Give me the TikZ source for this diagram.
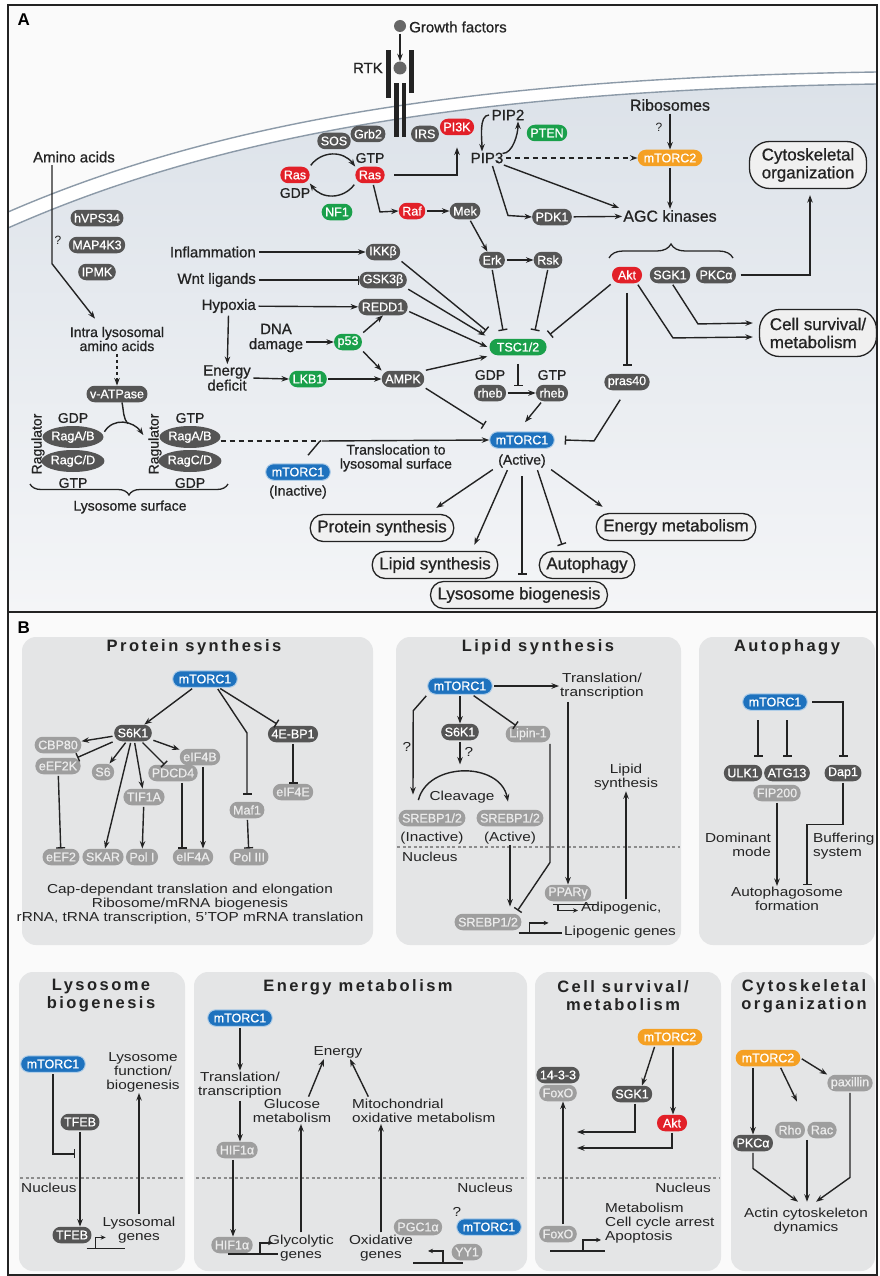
\documentclass[tikz,border=0pt]{standalone}
\usepackage{fontspec}
\setmainfont{Liberation Sans}
\newfontfamily\widesans[FakeStretch=1.18]{Liberation Sans}
\newfontfamily\titlesans[LetterSpace=15]{Liberation Sans}
\newfontfamily\medsans[FakeBold=0.8]{Liberation Sans}
\usetikzlibrary{arrows.meta,shapes.geometric,decorations.pathreplacing}
\definecolor{mtblue}{RGB}{30,114,190}
\definecolor{mtred}{RGB}{226,32,40}
\definecolor{mtgreen}{RGB}{26,160,75}
\definecolor{mtorange}{RGB}{245,160,35}
\definecolor{dkgrey}{RGB}{85,85,85}
\definecolor{ltgrey}{RGB}{158,158,158}
\definecolor{boxgrey}{RGB}{228,229,230}
\definecolor{membr}{RGB}{140,154,168}
\definecolor{cytotop}{RGB}{220,226,233}
\definecolor{cytolow}{RGB}{244,245,247}
\definecolor{ink}{RGB}{35,35,35}
\newcommand{\pillfont}{\medsans\fontsize{12.5}{12.5}\selectfont}
\newcommand{\lblfont}{\medsans\fontsize{15}{15}\selectfont}
\tikzset{
  pill/.style={rounded corners=8pt,inner xsep=3.5pt,inner ysep=0pt,minimum height=16.5pt,text=white,font=\pillfont},
  dkpill/.style={pill,fill=dkgrey},
  ltpill/.style={pill,fill=ltgrey,text=white!92!black},
  blpill/.style={pill,fill=mtblue,draw=mtblue!35,line width=1pt,inner xsep=6pt},
  rdpill/.style={pill,fill=mtred},
  gnpill/.style={pill,fill=mtgreen},
  ogpill/.style={pill,fill=mtorange,inner xsep=6pt},
  lbl/.style={font=\lblfont,text=ink,align=center,inner sep=1pt},
  smlbl/.style={lbl,font=\medsans\fontsize{14}{14}\selectfont},
  outbox/.style={draw=ink,line width=1.3pt,fill=black!6,rounded corners=13pt,minimum height=27pt,inner xsep=7pt,inner ysep=0pt,font=\medsans\fontsize{17}{18}\selectfont,text=ink,align=center},
  bigbox/.style={outbox,rounded corners=20pt,minimum height=47pt,minimum width=117pt},
  arr/.style={draw=ink,line width=1.4pt,shorten <=1.5pt,-{Stealth[length=7.5pt,width=5.5pt]}},
  inh/.style={draw=ink,line width=1.4pt,shorten <=1.5pt,-{Bar[width=9pt]}},
  gene/.style={draw=ink,line width=1.2pt},
  genearr/.style={gene,-{Stealth[length=5pt,width=4.5pt]}},
  nucline/.style={draw=black!45,line width=1.2pt,dash pattern=on 3pt off 2.5pt},
  panelbox/.style={fill=boxgrey,rounded corners=14pt},
  btitle/.style={font=\titlesans\bfseries\fontsize{16.5}{18}\selectfont,text=ink,align=center},
  btext/.style={font=\widesans\fontsize{13}{14}\selectfont,text=ink,align=center,inner sep=1pt},
  rag/.style={ellipse,fill=dkgrey,text=white,font=\pillfont,minimum width=57pt,minimum height=22pt,inner sep=0pt},
}
\begin{document}
\begin{tikzpicture}[x=1pt,y=-1pt]
\useasboundingbox (0,0) rectangle (879,1276);
\fill[white] (0,0) rectangle (879,1276);
\fill[black!2] (8,5) rectangle (877,612);
\shade[top color=cytotop,bottom color=cytolow] (8,228) .. controls (220,134) and (480,90) .. (877,84) -- (877,612) -- (8,612) -- cycle;
\fill[white] (8,212) .. controls (220,120) and (480,78) .. (877,72) -- (877,84) .. controls (480,90) and (220,134) .. (8,228) -- cycle;
\draw[membr,line width=1.4pt] (8,212) .. controls (220,120) and (480,78) .. (877,72);
\draw[membr,line width=1.4pt] (8,228) .. controls (220,134) and (480,90) .. (877,84);
\fill[black!2] (8,612) rectangle (877,1275);
\draw[ink,line width=1.6pt] (8,5) rectangle (877,1275);
\draw[ink,line width=1.6pt] (8,612) -- (877,612);
\node[font=\bfseries\fontsize{17}{17}\selectfont,anchor=west] (labA) at (14,20) {A};
\node[font=\bfseries\fontsize{17}{17}\selectfont,anchor=west] (labB) at (14,628) {B};

\node[circle,fill=black!60,minimum size=12pt,inner sep=0pt] (gf) at (400,26) {};
\node[lbl,anchor=west] (gftxt) at (408,27) {Growth factors};
\fill[ink] (386,50) rectangle (391,98);
\fill[ink] (409,50) rectangle (414,93);
\fill[ink] (394,83) rectangle (398.5,137);
\fill[ink] (401.5,83) rectangle (406,137);
\node[circle,fill=black!60,minimum size=13pt,inner sep=0pt] (lig) at (400,68) {};
\node[lbl,anchor=east] (rtk) at (384,68) {RTK};
\draw[arr] (gf) -- (lig);
\node[dkpill] (sos) at (334,141) {SOS};
\node[dkpill] (grb2) at (368,134) {Grb2};
\node[dkpill] (irs) at (425,134) {IRS};
\node[rdpill] (pi3k) at (457,127) {PI3K};
\node[gnpill] (pten) at (547,133) {PTEN};
\node[smlbl] (gtp1) at (370,158) {GTP};
\node[rdpill] (rasR) at (370,175) {Ras};
\node[rdpill] (rasL) at (295,175) {Ras};
\node[smlbl] (gdp1) at (295,193) {GDP};
\node[gnpill] (nf1) at (337,212) {NF1};
\node[rdpill] (raf) at (412,211) {Raf};
\node[dkpill] (mek) at (465,211) {Mek};
\node[lbl] (pip2) at (508,115) {PIP2};
\node[lbl] (pip3) at (487,158) {PIP3};
\node[ogpill] (mtorc2) at (670,158) {mTORC2};
\node[lbl,font=\medsans\fontsize{16}{16}\selectfont] (ribo) at (670,105) {Ribosomes};
\node[lbl,font=\fontsize{12}{12}\selectfont] (q1) at (659,127) {?};
\node[bigbox] (cytobox) at (808,165) {Cytoskeletal\\organization};
\node[dkpill] (pdk1) at (552,217) {PDK1};
\node[lbl,font=\medsans\fontsize{16}{16}\selectfont] (agc) at (670,216) {AGC kinases};
\node[rdpill,minimum width=30pt] (akt) at (627,275) {Akt};
\node[dkpill] (sgk1) at (670,275) {SGK1};
\node[dkpill] (pkca) at (716,275) {PKCα};
\node[dkpill] (erk) at (492,260) {Erk};
\node[dkpill] (rsk) at (548,260) {Rsk};
\node[dkpill] (ikk) at (383,252) {IKKβ};
\node[dkpill] (gsk) at (383,280) {GSK3β};
\node[dkpill] (redd1) at (383,307) {REDD1};
\node[lbl,anchor=east] (infl) at (257,252) {Inflammation};
\node[lbl,anchor=east] (wnt) at (257,280) {Wnt ligands};
\node[lbl,anchor=east] (hyp) at (257,306) {Hypoxia};
\node[lbl] (dna) at (276,338) {DNA\\damage};
\node[gnpill] (p53) at (348,342) {p53};
\node[lbl] (edef) at (227,378) {Energy\\deficit};
\node[gnpill] (lkb1) at (308,379) {LKB1};
\node[dkpill] (ampk) at (403,379) {AMPK};
\node[gnpill,minimum width=57pt] (tsc) at (518,347) {TSC1/2};
\node[smlbl] (gdp2) at (490,375) {GDP};
\node[dkpill] (rheb1) at (490,393) {rheb};
\node[smlbl] (gtp2) at (552,375) {GTP};
\node[dkpill] (rheb2) at (552,393) {rheb};
\node[blpill] (mtorc1) at (522,440) {mTORC1};
\node[smlbl] (actv) at (522,461) {(Active)};
\node[dkpill] (pras) at (627,382) {pras40};
\node[bigbox,align=left] (cellbox) at (818,333) {Cell survival/\\metabolism};

\node[lbl] (amino) at (74,157) {Amino acids};
\node[dkpill] (vps) at (97,218) {hVPS34};
\node[dkpill] (map4k3) at (97,245) {MAP4K3};
\node[dkpill] (ipmk) at (97,272) {IPMK};
\node[lbl,font=\fontsize{12}{12}\selectfont] (q2) at (58,240) {?};
\node[smlbl] (intra) at (117,339) {Intra lysosomal\\amino acids};
\node[dkpill] (vatp) at (117,394) {v-ATPase};
\node[smlbl] (gdpL) at (73,418) {GDP};
\node[rag] (ragab1) at (73,437) {RagA/B};
\node[rag] (ragcd1) at (73,461) {RagC/D};
\node[smlbl] (gtpL) at (73,483) {GTP};
\node[smlbl,rotate=90] (ragul1) at (38,444) {Ragulator};
\node[smlbl] (gtpR) at (190,418) {GTP};
\node[rag] (ragab2) at (190,437) {RagA/B};
\node[rag] (ragcd2) at (190,461) {RagC/D};
\node[smlbl] (gdpR) at (190,483) {GDP};
\node[smlbl,rotate=90] (ragul2) at (155,444) {Ragulator};
\draw[ink,line width=1.3pt,decorate,decoration={brace,amplitude=11pt}] (228,484) -- (30,484);
\node[smlbl] (lysurf) at (130,507) {Lysosome surface};
\node[blpill] (mtorcI) at (298,472) {mTORC1};
\node[smlbl] (inact) at (298,492) {(Inactive)};
\node[smlbl] (transl) at (396,458) {Translocation to\\lysosomal surface};
\coordinate (jn) at (320,441);

\node[outbox] (oprot) at (382,528) {Protein synthesis};
\node[outbox] (olip) at (435,565) {Lipid synthesis};
\node[outbox] (olys) at (519,595) {Lysosome biogenesis};
\node[outbox] (oaut) at (587,565) {Autophagy};
\node[outbox] (oen) at (676,527) {Energy metabolism};

\draw[arr] (rasL.north east) .. controls +(12,-16) and +(-12,-16) .. (rasR.north west);
\draw[arr] (rasR.south west) .. controls +(-12,16) and +(12,16) .. (rasL.south east);
\draw[arr] ([xshift=8pt]rasR.east) -| ([yshift=-12pt]pi3k.south);
\draw[arr] ([xshift=3pt]rasR.south) -- ++(7,28.5) -- (raf.west);
\draw[arr] (raf) -- (mek);
\draw[arr] (mek) -- (erk);
\draw[arr] (erk) -- (rsk);
\draw[arr] (pip2.west) .. controls +(-12,0) and +(0,-12) .. ([xshift=-5pt]pip3.north);
\draw[arr] ([xshift=14pt,yshift=-2pt]pip3.north) .. controls +(12,0) and +(0,12) .. ([xshift=10pt]pip2.south);
\draw[arr,dash pattern=on 5pt off 4pt] (pip3.east) -- (mtorc2.west);
\draw[arr] (ribo) -- (mtorc2);
\draw[arr] (mtorc2) -- (agc);
\draw[arr] ([xshift=-2pt]pip3.south east) -- ([xshift=-3pt,yshift=8pt]agc.west);
\draw[arr] ([xshift=5pt]pip3.south) -- ++(16,51) -- (pdk1.west);
\draw[arr] (pdk1) -- (agc);
\draw[ink,line width=1.3pt,decorate,decoration={brace,amplitude=14pt}] (609,258) -- (733,258);
\draw[arr] ([xshift=3pt]pkca.east) -| ([xshift=2pt,yshift=-6pt]cytobox.south);
\draw[arr] (infl) -- (ikk);
\draw[inh] (wnt) -- (gsk);
\draw[arr] (hyp) -- (redd1);
\draw[arr] (hyp) -- (edef);
\draw[arr] ([yshift=-4pt]dna.east) -- (p53.west);
\draw[arr] (p53.north east) -- (redd1.south);
\draw[arr] (p53.south east) -- (ampk.north west);
\draw[arr] (edef.east) -- (lkb1.west);
\draw[arr] (lkb1) -- (ampk);
\draw[inh] (ikk.south east) -- ([xshift=-3pt,yshift=8pt]tsc.north west);
\draw[arr] (gsk.south east) -- ([xshift=-4pt,yshift=3pt]tsc.north west);
\draw[arr] ([yshift=-4pt]redd1.east) -- ([xshift=-2pt]tsc.west);
\draw[arr] (ampk.north east) -- ([xshift=-2pt,yshift=-1pt]tsc.south west);
\draw[inh] (ampk.south east) -- ([xshift=-5pt,yshift=6pt]mtorc1.north west);
\draw[inh] (erk.south) -- ([xshift=-15pt,yshift=8pt]tsc.north);
\draw[inh] (rsk.south) -- ([xshift=17pt,yshift=8pt]tsc.north);
\draw[inh] (akt.south west) -- ([xshift=3pt,yshift=4pt]tsc.north east);
\draw[inh] ([yshift=-7pt]tsc.south) -- ([yshift=7pt]tsc.south |- rheb1);
\draw[arr] (rheb1) -- (rheb2);
\draw[arr] ([xshift=-10pt]rheb2.south) -- ([xshift=3pt,yshift=9pt]mtorc1.north);
\draw[inh] ([yshift=-8pt]akt.south) -- ([yshift=8pt]pras.north);
\draw[inh] ([xshift=-6pt,yshift=-8pt]pras.south) -- ++(-27,42.5) -- ([xshift=10pt]mtorc1.east);
\draw[arr] ([xshift=10pt]akt.south) -- ++(36,54.5) -- ([xshift=-6pt,yshift=-4pt]cellbox.west);
\draw[arr] ([xshift=2pt]sgk1.south) -- ++(26,40.5) -- ([xshift=-6pt,yshift=10pt]cellbox.west);
\draw[arr] ([xshift=-22pt]amino.south) -- ++(0,100) -- ([xshift=-22pt,yshift=7pt]intra.north);
\draw[arr,dash pattern=on 3pt off 3pt] (intra.south) -- (vatp.north);
\draw[arr] ([yshift=4pt]ragab1.east) .. controls +(10,-16) and +(-10,-14) .. coordinate[pos=0.6] (ragjoin) ([xshift=-16pt,yshift=2pt]ragab2.west);
\draw[ink,line width=1.4pt] ([xshift=5pt]vatp.south) .. controls +(2,10) and +(-5,-6) .. (ragjoin);
\draw[ink,line width=1.4pt,dash pattern=on 5pt off 4pt] ([yshift=-4pt]ragab2.east) -- (jn);
\draw[ink,line width=1.4pt] ([xshift=10pt,yshift=8pt]mtorcI.north) -- (jn);
\draw[arr] (jn) -- (mtorc1.west);
\draw[arr] ([xshift=-3pt]actv.south west) -- ([xshift=-18pt,yshift=6pt]oprot.north east);
\draw[arr] ([xshift=-14pt]actv.south) -- ([xshift=-24pt,yshift=6pt]olip.north east);
\draw[inh] ([yshift=-6pt]actv.south) -- ([yshift=6pt]actv.south |- olys.north);
\draw[inh] ([xshift=15pt]actv.south) -- ([xshift=-25pt,yshift=6pt]oaut.north);
\draw[arr] ([xshift=3pt]actv.south east) -- ([xshift=7pt,yshift=6pt]oen.north west);

\fill[panelbox] (22,637) rectangle (373,945);
\fill[panelbox] (396,637) rectangle (681,945);
\fill[panelbox] (699,637) rectangle (875,945);
\fill[panelbox] (19,972) rectangle (185,1271);
\fill[panelbox] (194,972) rectangle (527,1271);
\fill[panelbox] (535,972) rectangle (721,1271);
\fill[panelbox] (731,972) rectangle (875,1271);

\node[btitle] (tprot) at (194,647) {Protein synthesis};
\node[blpill] (pm1) at (205,679) {mTORC1};
\node[dkpill] (ps6k1) at (133,733) {S6K1};
\node[dkpill] (p4ebp) at (293,734) {4E-BP1};
\node[ltpill] (pcbp) at (58,745) {CBP80};
\node[ltpill] (peef2k) at (58,766) {eEF2K};
\node[ltpill] (ps6) at (103,772) {S6};
\node[ltpill] (peif4b) at (200,757) {eIF4B};
\node[ltpill] (ppdcd4) at (173,773) {PDCD4};
\node[ltpill] (ptif) at (144,797) {TIF1A};
\node[ltpill] (pmaf1) at (247,810) {Maf1};
\node[ltpill] (peif4e) at (293,792) {eIF4E};
\node[ltpill] (peef2) at (61,857) {eEF2};
\node[ltpill] (pskar) at (103,857) {SKAR};
\node[ltpill] (ppol1) at (142,857) {Pol I};
\node[ltpill] (peif4a) at (193,857) {eIF4A};
\node[ltpill] (ppol3) at (249,857) {Pol III};
\node[btext] (ptxt) at (190,904) {Cap-dependant translation and elongation\\Ribosome/mRNA biogenesis\\rRNA, tRNA transcription, 5’TOP mRNA translation};
\draw[arr] (pm1) -- (ps6k1);
\draw[inh] ([xshift=12pt]pm1.south) -- (pmaf1.north |- ps6k1) -- ([yshift=7pt]pmaf1.north);
\draw[inh,shorten >=3pt] (pm1) -- (p4ebp);
\draw[arr] (ps6k1) -- (pcbp);
\draw[inh] (ps6k1) -- (peef2k);
\draw[arr] (ps6k1) -- (ps6);
\draw[arr] (ps6k1) -- (pskar);
\draw[arr] (ps6k1) -- (ptif);
\draw[inh] (ps6k1) -- (ppdcd4);
\draw[arr] (ps6k1) -- (peif4b);
\draw[inh] (peef2k) -- (peef2);
\draw[arr] (ptif) -- (ppol1);
\draw[inh] ([xshift=-11pt]peif4a.north |- ppdcd4.south) -- ([xshift=-11pt]peif4a.north);
\draw[arr] ([xshift=10pt]peif4a.north |- peif4b.south) -- ([xshift=10pt]peif4a.north);
\draw[inh] (pmaf1) -- (ppol3);
\draw[inh] (p4ebp) -- (peif4e);

\node[btitle] (tlip) at (538,647) {Lipid synthesis};
\node[blpill] (lm1) at (460,686) {mTORC1};
\node[btext] (ltrans) at (602,686) {Translation/\\transcription};
\node[dkpill] (ls6k1) at (460,732) {S6K1};
\node[ltpill] (llipin) at (528,734) {Lipin-1};
\node[ltpill] (lsrI) at (432,818) {SREBP1/2};
\node[btext] (linact) at (432,838) {(Inactive)};
\node[ltpill] (lsrA) at (510,818) {SREBP1/2};
\node[btext] (lact) at (510,838) {(Active)};
\node[btext] (lcleav) at (462,797) {Cleavage};
\draw[nucline] (397,847) -- (680,847);
\node[btext,anchor=west] (lnuc) at (401,857) {Nucleus};
\node[ltpill] (lsrN) at (488,922) {SREBP1/2};
\node[ltpill] (lppar) at (568,893) {PPARγ};
\node[btext] (llipsyn) at (626,777) {Lipid\\synthesis};
\node[btext,anchor=west] (ladipo) at (580,908) {Adipogenic,};
\node[btext,anchor=west] (llipog) at (563,932) {Lipogenic genes};
\node[btext] (lq1) at (407,747) {?};
\node[btext] (lq2) at (469,752) {?};
\draw[arr] (lm1) -- (ltrans);
\draw[arr] (lm1) -- (ls6k1);
\draw[inh] (lm1) -- (llipin);
\draw[arr] (lm1.south west) -- ++(-14,16) -- ([xshift=-19pt,yshift=15pt]lsrI.north);
\draw[arr] (ls6k1.south) -- ++(0,24);
\draw[arr] ([xshift=-14pt,yshift=8pt]lsrI.north) .. controls +(10,-40) and +(-8,-40) .. ([xshift=-2pt,yshift=8pt]lsrA.north);
\draw[arr] ([yshift=-17pt]lsrA.south) -- ([xshift=22pt,yshift=7pt]lsrN.north);
\draw[inh] ([xshift=22pt]llipin.south) -- ++(0,120) -- ([xshift=-4pt,yshift=3pt]lsrN.north east);
\draw[arr] (ltrans.south -| lppar.north) -- (lppar.north);
\draw[gene] ([xshift=-15pt,yshift=-3pt]lppar.south) -- ++(44,0);
\draw[genearr] ([xshift=-10pt,yshift=-3pt]lppar.south) -- ++(0,6) -- ++(20,0);
\draw[arr] (ladipo.north -| llipsyn) -- (llipsyn.south);
\draw[gene] ([xshift=-3pt,yshift=-2.5pt]lsrN.south east) -- ++(43,0);
\draw[genearr] ([xshift=8pt,yshift=-2.5pt]lsrN.south east) -- ++(0,-10) -- ++(19,0);

\node[btitle] (taut) at (787,647) {Autophagy};
\node[blpill] (am1) at (775,702) {mTORC1};
\node[dkpill] (aulk) at (743,773) {ULK1};
\node[dkpill] (aatg) at (787,773) {ATG13};
\node[dkpill] (adap) at (843,773) {Dap1};
\node[ltpill] (afip) at (777,793) {FIP200};
\node[btext,align=right,anchor=east] (adom) at (772,845) {Dominant\\mode};
\node[btext,align=left,anchor=west] (abuf) at (812,846) {Buffering\\system};
\node[btext] (aform) at (787,899) {Autophagosome\\formation};
\draw[inh] ([xshift=-17pt,yshift=-8pt]am1.south) -- ([xshift=15pt,yshift=8pt]aulk.north);
\draw[inh] ([xshift=12pt,yshift=-8pt]am1.south) -- ([yshift=8pt]aatg.north);
\draw[inh] ([xshift=3pt]am1.east) -| ([yshift=8pt]adap.north);
\draw[arr] (afip.south) -- (afip.south |- aform.north);
\draw[inh] (adap.south) -- ++(0,43) -| ([xshift=20pt,yshift=1pt]aform.north);

\node[btitle] (tlys) at (101,996) {Lysosome\\biogenesis};
\node[blpill] (bm1) at (53,1064) {mTORC1};
\node[btext] (bfun) at (143,1072) {Lysosome\\function/\\biogenesis};
\node[dkpill] (btfeb1) at (80,1122) {TFEB};
\draw[nucline] (20,1178) -- (184,1178);
\node[btext,anchor=west] (bnuc) at (20,1188) {Nucleus};
\node[dkpill] (btfeb2) at (72,1235) {TFEB};
\node[btext] (bgen) at (139,1230) {Lysosomal\\genes};
\draw[inh] (bm1.south) |- ([xshift=-5pt,yshift=-23.5pt]btfeb1.south);
\draw[arr] (btfeb1.south) -- (btfeb1.south |- btfeb2.north);
\draw[arr] (bgen.north) -- (bgen.north |- bfun.south);
\draw[gene] ([xshift=-5pt,yshift=-5pt]btfeb2.south east) -- ++(38,0);
\draw[genearr] ([xshift=4pt,yshift=-5pt]btfeb2.south east) -- ++(0,-11) -- ++(10,0);

\node[btitle] (tene) at (358,987) {Energy metabolism};
\node[blpill] (em1) at (240,1018) {mTORC1};
\node[btext] (etrans) at (240,1085) {Translation/\\transcription};
\node[ltpill] (ehif1) at (237,1150) {HIF1α};
\draw[nucline] (196,1178) -- (526,1178);
\node[btext,anchor=east] (enuc) at (514,1188) {Nucleus};
\node[ltpill] (ehif2) at (232,1245) {HIF1α};
\node[btext] (eglyg) at (301,1248) {Glycolytic\\genes};
\node[btext] (eglum) at (292,1111) {Glucose\\metabolism};
\node[btext] (eenergy) at (338,1052) {Energy};
\node[btext,align=left,anchor=west] (emito) at (351,1111) {Mitochondrial\\oxidative metabolism};
\node[btext] (eoxg) at (381,1248) {Oxidative\\genes};
\node[ltpill] (epgc) at (418,1227) {PGC1α};
\node[blpill] (em2) at (489,1227) {mTORC1};
\node[btext] (eq) at (457,1212) {?};
\node[ltpill] (eyy1) at (467,1252) {YY1};
\draw[arr] (em1) -- (etrans);
\draw[arr] (etrans.south) -- (etrans.south |- ehif1.north);
\draw[arr] ([xshift=-4pt]ehif1.south) -- ([xshift=1pt]ehif2.north);
\draw[arr] (eglyg.north) -- (eglyg.north |- eglum.south);
\draw[arr] ([xshift=16pt]eglum.north) -- ([xshift=-14pt]eenergy.south);
\draw[arr] ([xshift=18pt]emito.north west) -- ([xshift=12pt]eenergy.south);
\draw[arr] (eoxg.north) -- (eoxg.north |- emito.south);
\draw[gene] ([xshift=-4pt,yshift=-0.5pt]ehif2.south) -- ++(50,0);
\draw[genearr] ([xshift=28pt,yshift=-0.5pt]ehif2.south) -- ++(0,-11) -- ++(13,0);
\draw[gene] ([xshift=-54pt,yshift=-2.5pt]eyy1.south) -- ++(50,0);
\draw[genearr] ([xshift=-24pt,yshift=-2.5pt]eyy1.south) -- ++(0,-12) -- ++(-15,0);

\node[btitle] (tcell) at (623,996) {Cell survival/\\metabolism};
\node[ogpill] (cm2) at (670,1037) {mTORC2};
\node[dkpill] (c1433) at (558,1075) {14-3-3};
\node[ltpill] (cfoxo1) at (558,1093) {FoxO};
\node[dkpill] (csgk) at (632,1094) {SGK1};
\node[rdpill,minimum width=30pt] (cakt) at (672,1123) {Akt};
\draw[nucline] (537,1178) -- (720,1178);
\node[btext,anchor=east] (cnuc) at (712,1188) {Nucleus};
\node[ltpill] (cfoxo2) at (558,1234) {FoxO};
\node[btext,align=left,anchor=west] (cout) at (604,1223) {Metabolism\\Cell cycle arrest\\Apoptosis};
\draw[arr] ([xshift=-15pt]cm2.south) -- ([xshift=10pt]csgk.north);
\draw[arr] ([xshift=3pt]cm2.south) -- ([xshift=1pt]cakt.north);
\draw[arr] ([xshift=3pt]csgk.south) |- ([yshift=-39pt]cfoxo1.east);
\draw[arr] (cakt.south) |- ([yshift=-55pt]cfoxo1.east);
\draw[arr] ([xshift=5pt]cfoxo2.north) -- ([xshift=5pt]cfoxo1.south);
\draw[gene] ([xshift=-8pt,yshift=-8.5pt]cfoxo2.south) -- ++(55,0);
\draw[genearr] ([xshift=25pt,yshift=-8.5pt]cfoxo2.south) -- ++(0,-11) -- ++(18,0);

\node[btitle] (tcyt) at (804,996) {Cytoskeletal\\organization};
\node[ogpill] (km2) at (768,1058) {mTORC2};
\node[ltpill] (kpax) at (850,1083) {paxillin};
\node[ltpill] (krho) at (790,1130) {Rho};
\node[ltpill] (krac) at (822,1130) {Rac};
\node[dkpill] (kpkc) at (753,1143) {PKCα};
\node[btext] (kact) at (806,1221) {Actin cytoskeleton\\dynamics};
\draw[arr] (km2.east) -- (kpax.north west);
\draw[arr] ([xshift=-15pt]km2.south) -- (kpkc.north);
\draw[arr] ([xshift=12pt]km2.south) -- ([xshift=7pt,yshift=20pt]krho.north);
\draw[arr] (kpkc.south) -- ++(0,17) -- ([xshift=-8pt,yshift=5pt]kact.north);
\draw[arr] ([xshift=1pt]kact.north |- krho.south) -- ([xshift=1pt,yshift=5pt]kact.north);
\draw[arr] (kpax.south) -- ++(0,86) -- ([xshift=10pt,yshift=5pt]kact.north);
\end{tikzpicture}
\end{document}
